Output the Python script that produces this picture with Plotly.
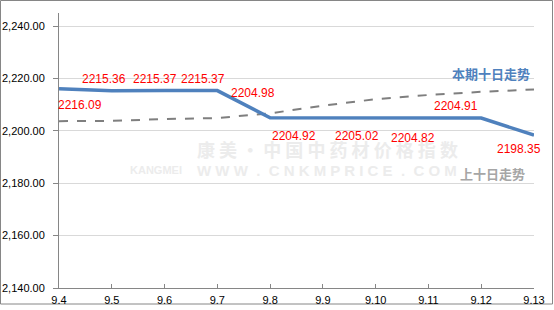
import plotly.graph_objects as go

categories = ["9.4", "9.5", "9.6", "9.7", "9.8", "9.9", "9.10", "9.11", "9.12", "9.13"]
current_values = [2216.09, 2215.36, 2215.37, 2215.37, 2204.98, 2204.92, 2205.02, 2204.82, 2204.91, 2198.35]
previous_values = [2203.7, 2203.8, 2204.5, 2204.9, 2206.7, 2209.6, 2212.1, 2213.7, 2214.9, 2215.8]
y_ticks = [2140, 2160, 2180, 2200, 2220, 2240]
current_name = "本期十日走势"
previous_name = "上十日走势"

# label offsets in pixels (dx right, dy down)
label_dx = [21, -8, -10, -14, -17, -29, -19, -15, -25, -15]
label_dy = [16, -12, -12, -12, -25, 18, 18, 20, -12, 14]

fig = go.Figure()
fig.add_trace(go.Scatter(x=categories, y=previous_values, mode="lines",
                         line=dict(color="#7f7f7f", width=2, dash="dash"),
                         name=previous_name, hoverinfo="skip"))
fig.add_trace(go.Scatter(x=categories, y=current_values, mode="lines",
                         line=dict(color="#4f81bd", width=3.5),
                         name=current_name, hoverinfo="skip"))

annotations = []
# watermark
annotations.append(dict(x=(195 - 59) / 475, y=(288 - 149) / 275, xref="paper", yref="paper",
                        xanchor="left", yanchor="middle", showarrow=False,
                        text="<b>康 美 · 中 国 中 药 材 价 格 指 数</b>",
                        font=dict(family="Noto Sans CJK SC", size=18, color="#ececec")))
annotations.append(dict(x=(128 - 59) / 475, y=(288 - 170) / 275, xref="paper", yref="paper",
                        xanchor="left", yanchor="middle", showarrow=False,
                        text="<b>KANGMEI</b>",
                        font=dict(family="Liberation Sans, Arial", size=11, color="#ececec")))
annotations.append(dict(x=(195 - 59) / 475, y=(288 - 170) / 275, xref="paper", yref="paper",
                        xanchor="left", yanchor="middle", showarrow=False,
                        text="<b>W W W  .  C N K M P R I C E  .  C O M</b>",
                        font=dict(family="Liberation Sans, Arial", size=15, color="#ececec")))

# data labels
for i, (v, dx, dy) in enumerate(zip(current_values, label_dx, label_dy)):
    annotations.append(dict(x=i, y=v, xref="x", yref="y", text=f"{v:.2f}",
                            showarrow=False, xshift=dx, yshift=-dy,
                            xanchor="center", yanchor="middle",
                            font=dict(family="Liberation Sans, Arial", size=12, color="#ff0000")))

# series name labels
annotations.append(dict(x=(532 - 59) / 475, y=(288 - 73) / 275, xref="paper", yref="paper",
                        xanchor="right", yanchor="middle", showarrow=False,
                        text=f"<b>{current_name}</b>",
                        font=dict(family="Noto Sans CJK SC", size=13, color="#4f81bd")))
annotations.append(dict(x=(527 - 59) / 475, y=(288 - 173) / 275, xref="paper", yref="paper",
                        xanchor="right", yanchor="middle", showarrow=False,
                        text=f"<b>{previous_name}</b>",
                        font=dict(family="Noto Sans CJK SC", size=13, color="#a6a6a6")))

fig.update_layout(
    width=554, height=310,
    margin=dict(l=59, r=20, t=13, b=22, pad=0, autoexpand=False),
    paper_bgcolor="white", plot_bgcolor="white",
    showlegend=False,
    annotations=annotations,
    font=dict(family="Liberation Sans, Arial", size=11, color="#000000"),
    shapes=[dict(type="rect", xref="paper", yref="paper",
                 x0=(0.5 - 59) / 475, x1=(552.5 - 59) / 475,
                 y0=-(304 - 288) / 275, y1=(288 - 0.5) / 275,
                 line=dict(color="#868686", width=1), fillcolor="rgba(0,0,0,0)",
                 layer="below")],
)
fig.update_xaxes(type="category", range=[0, 9], showgrid=False,
                 showline=True, linecolor="#868686", linewidth=1,
                 ticks="inside", ticklen=4, tickcolor="#868686",
                 ticklabelstandoff=2, automargin=False,
                 tickfont=dict(size=11), fixedrange=True)
fig.update_yaxes(range=[2140, 2245], tickvals=y_ticks, tickformat=",.2f",
                 showgrid=True, gridcolor="#d9d9d9", gridwidth=1,
                 showline=True, linecolor="#868686", linewidth=1,
                 ticks="outside", ticklen=5, tickcolor="#868686",
                 ticklabelstandoff=6, automargin=False,
                 tickfont=dict(size=11), zeroline=False, fixedrange=True)

fig.write_html("out.html")
